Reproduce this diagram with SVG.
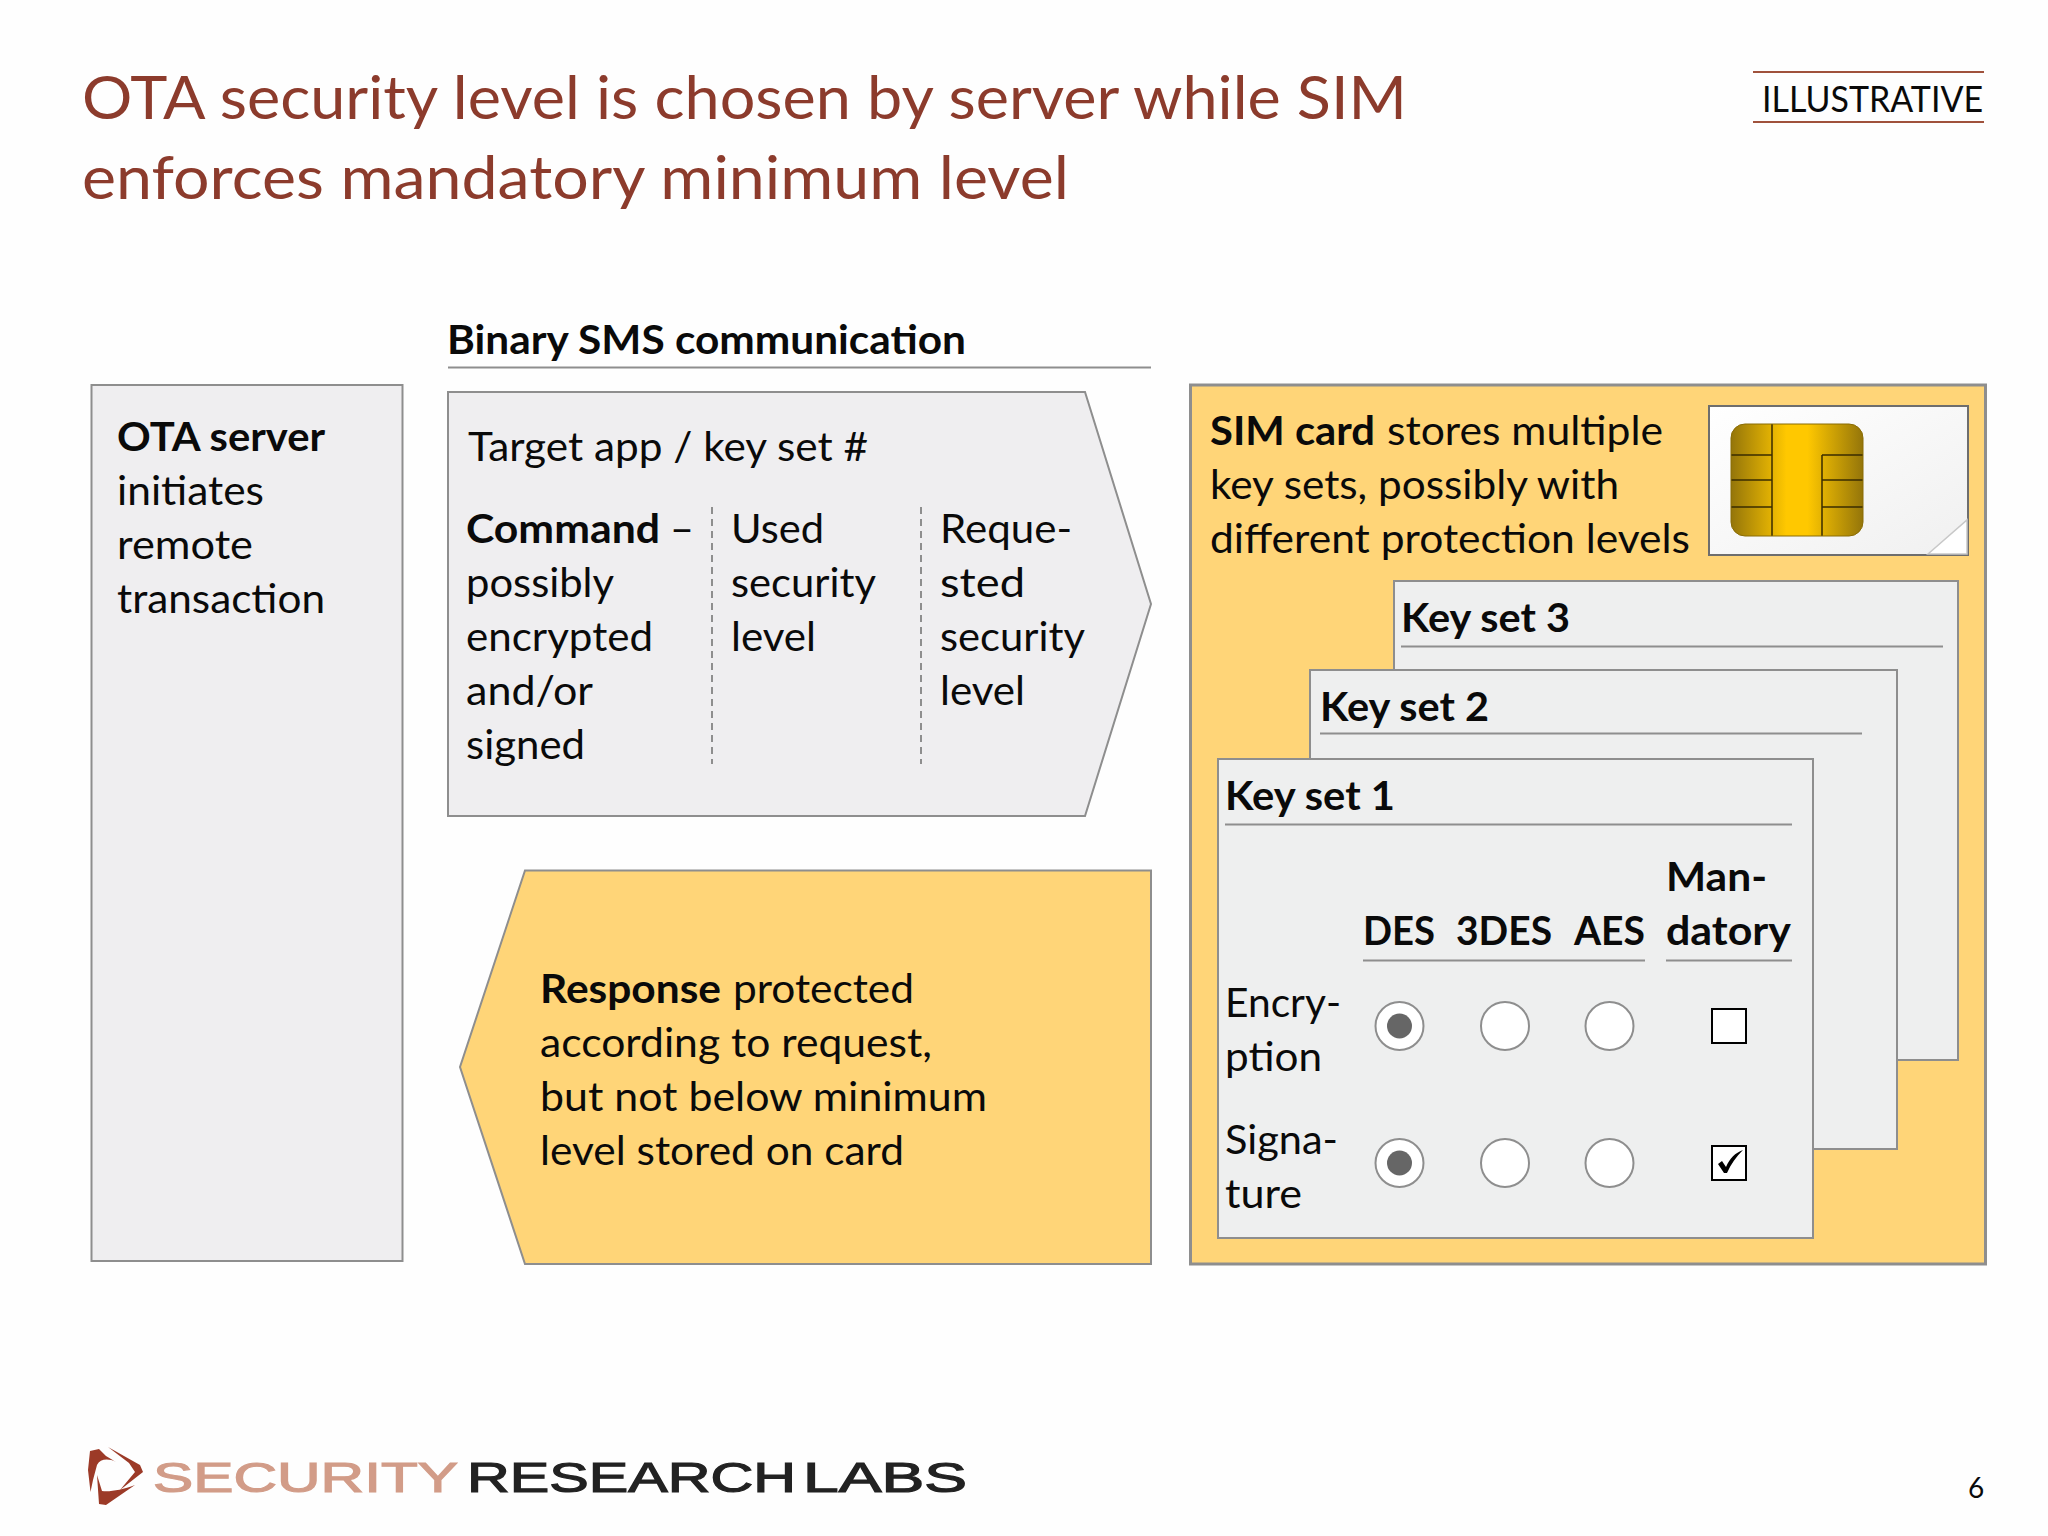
<svg xmlns="http://www.w3.org/2000/svg" width="2048" height="1536" viewBox="0 0 2048 1536">
<defs>
<style>
text{font-family:"Lato","Open Sans","Liberation Sans",sans-serif;fill:#0a0a0a;font-size:40px}
.b{font-weight:700}
.ti{font-size:60px;fill:#8c3b2c}
.p{fill:#efeef0;stroke:#8e8e8e;stroke-width:2}
.k{fill:#eeefef;stroke:#8e8e8e;stroke-width:2}
.g{fill:#ffd578;stroke:#8e8e8e;stroke-width:2}
.r{fill:none;stroke:#8e8e8e;stroke-width:2}
.c{fill:#fff;stroke:#8e8e8e;stroke-width:2}
.d{fill:#666}
.x{fill:#fff;stroke:#000;stroke-width:2}
.chip{stroke:#3a2c00;stroke-width:1.5;fill:none}
.logo{font-family:"Liberation Sans",sans-serif;font-size:43px;stroke-width:1.2}
</style>
<linearGradient id="chip" x1="0" x2="1" y1="0" y2="0">
<stop offset="0" stop-color="#94750a"/><stop offset="0.42" stop-color="#ffc800"/><stop offset="0.58" stop-color="#ffc800"/><stop offset="1" stop-color="#94750a"/>
</linearGradient>
<linearGradient id="card" x1="0" x2="1" y1="0" y2="1">
<stop offset="0" stop-color="#ffffff"/><stop offset="1" stop-color="#f0f0f0"/>
</linearGradient>
</defs>
<rect width="2048" height="1536" fill="#fefefe"/>

<g id="title">
<text class="ti" x="82" y="119" textLength="1325" lengthAdjust="spacingAndGlyphs">OTA security level is chosen by server while SIM</text>
<text class="ti" x="82" y="199" textLength="987" lengthAdjust="spacingAndGlyphs">enforces mandatory minimum level</text>
</g>

<g id="illustrative">
<path d="M1753 72H1984M1753 122H1984" stroke="#a0523c" stroke-width="2" fill="none"/>
<text x="1762" y="112" style="font-size:36px" textLength="221" lengthAdjust="spacingAndGlyphs">ILLUSTRATIVE</text>
</g>

<g id="ota-server">
<rect class="p" x="91.5" y="385" width="311" height="876"/>
<text class="b" x="117" y="451" textLength="208" lengthAdjust="spacingAndGlyphs">OTA server</text>
<text x="117" y="505" textLength="147" lengthAdjust="spacingAndGlyphs">initiates</text>
<text x="117" y="559" textLength="136" lengthAdjust="spacingAndGlyphs">remote</text>
<text x="117" y="613" textLength="208" lengthAdjust="spacingAndGlyphs">transaction</text>
</g>

<g id="binary-sms-header">
<text class="b" x="447" y="354" textLength="519" lengthAdjust="spacingAndGlyphs">Binary SMS communication</text>
<path class="r" d="M448 367.500H1151"/>
</g>

<g id="request-arrow">
<path class="p" d="M448 392H1085L1151 604L1085 816H448Z"/>
<text x="468" y="461" textLength="400" lengthAdjust="spacingAndGlyphs">Target app / key set #</text>
<text class="b" x="466" y="543" textLength="194" lengthAdjust="spacingAndGlyphs">Command</text>
<text x="670" y="543" textLength="24" lengthAdjust="spacingAndGlyphs">–</text>
<text x="466" y="597" textLength="148" lengthAdjust="spacingAndGlyphs">possibly</text>
<text x="466" y="651" textLength="187" lengthAdjust="spacingAndGlyphs">encrypted</text>
<text x="466" y="705" textLength="127" lengthAdjust="spacingAndGlyphs">and/or</text>
<text x="466" y="759" textLength="119" lengthAdjust="spacingAndGlyphs">signed</text>
<path class="r" stroke-dasharray="7 5" d="M712 507V764M921 507V764"/>
<text x="731" y="543" textLength="93" lengthAdjust="spacingAndGlyphs">Used</text>
<text x="731" y="597" textLength="145" lengthAdjust="spacingAndGlyphs">security</text>
<text x="731" y="651" textLength="85" lengthAdjust="spacingAndGlyphs">level</text>
<text x="940" y="543" textLength="132" lengthAdjust="spacingAndGlyphs">Reque-</text>
<text x="940" y="597" textLength="85" lengthAdjust="spacingAndGlyphs">sted</text>
<text x="940" y="651" textLength="145" lengthAdjust="spacingAndGlyphs">security</text>
<text x="940" y="705" textLength="85" lengthAdjust="spacingAndGlyphs">level</text>
</g>

<g id="response-arrow">
<path class="g" d="M525 870.500H1151V1264H525L460 1067Z"/>
<text class="b" x="540" y="1003" textLength="181" lengthAdjust="spacingAndGlyphs">Response</text>
<text x="733" y="1003" textLength="181" lengthAdjust="spacingAndGlyphs">protected</text>
<text x="540" y="1057" textLength="392" lengthAdjust="spacingAndGlyphs">according to request,</text>
<text x="540" y="1111" textLength="447" lengthAdjust="spacingAndGlyphs">but not below minimum</text>
<text x="540" y="1165" textLength="364" lengthAdjust="spacingAndGlyphs">level stored on card</text>
</g>

<g id="sim-card">
<rect class="g" x="1190.500" y="385" width="795" height="879" style="stroke-width:3"/>
<text class="b" x="1210" y="445" textLength="165" lengthAdjust="spacingAndGlyphs">SIM card</text>
<text x="1387" y="445" textLength="276" lengthAdjust="spacingAndGlyphs">stores multiple</text>
<text x="1210" y="499" textLength="409" lengthAdjust="spacingAndGlyphs">key sets, possibly with</text>
<text x="1210" y="553" textLength="480" lengthAdjust="spacingAndGlyphs">different protection levels</text>
</g>

<g id="sim-image">
<rect x="1709" y="406" width="259" height="149" fill="url(#card)" stroke="#6e6e6e" stroke-width="2"/>
<path d="M1928 554L1967 520V554Z" fill="#fff" stroke="#c8c8c8" stroke-width="1.500"/>
<rect x="1731" y="424" width="132" height="112" rx="14" fill="url(#chip)"/>
<path class="chip" d="M1772 424V536M1822 455V536M1731 455H1772M1731 480H1772M1731 507H1772M1822 455H1863M1822 480H1863M1822 507H1863"/>
<rect x="1731" y="424" width="132" height="112" rx="14" fill="none" stroke="#8a6c05" stroke-width="1"/>
</g>

<g id="key-set-3">
<rect class="k" x="1394" y="581" width="564" height="479"/>
<text class="b" x="1401" y="632" textLength="169" lengthAdjust="spacingAndGlyphs">Key set 3</text>
<path class="r" d="M1401 646.500H1943"/>
</g>

<g id="key-set-2">
<rect class="k" x="1310" y="670" width="587" height="479"/>
<text class="b" x="1320" y="721" textLength="169" lengthAdjust="spacingAndGlyphs">Key set 2</text>
<path class="r" d="M1320 733.500H1862"/>
</g>

<g id="key-set-1">
<rect class="k" x="1218" y="759" width="595" height="479"/>
<text class="b" x="1225" y="810" textLength="170" lengthAdjust="spacingAndGlyphs">Key set 1</text>
<path class="r" d="M1225 824.500H1792"/>
<text class="b" x="1666" y="891" textLength="101" lengthAdjust="spacingAndGlyphs">Man-</text>
<text class="b" x="1666" y="945" textLength="125" lengthAdjust="spacingAndGlyphs">datory</text>
<text class="b" x="1363" y="945" textLength="72" lengthAdjust="spacingAndGlyphs">DES</text>
<text class="b" x="1456" y="945" textLength="96" lengthAdjust="spacingAndGlyphs">3DES</text>
<text class="b" x="1574" y="945" textLength="71" lengthAdjust="spacingAndGlyphs">AES</text>
<path class="r" d="M1363 960.500H1645M1666 960.500H1792"/>
<text x="1225" y="1017" textLength="116" lengthAdjust="spacingAndGlyphs">Encry-</text>
<text x="1225" y="1071" textLength="97" lengthAdjust="spacingAndGlyphs">ption</text>
<text x="1225" y="1154" textLength="113" lengthAdjust="spacingAndGlyphs">Signa-</text>
<text x="1225" y="1208" textLength="77" lengthAdjust="spacingAndGlyphs">ture</text>
<circle class="c" cx="1399.500" cy="1026" r="24"/><circle class="d" cx="1399.500" cy="1026" r="12.500"/>
<circle class="c" cx="1505" cy="1026" r="24"/>
<circle class="c" cx="1609.500" cy="1026" r="24"/>
<rect class="x" x="1712" y="1009" width="34" height="34"/>
<circle class="c" cx="1399.500" cy="1163" r="24"/><circle class="d" cx="1399.500" cy="1163" r="12.500"/>
<circle class="c" cx="1505" cy="1163" r="24"/>
<circle class="c" cx="1609.500" cy="1163" r="24"/>
<rect class="x" x="1712" y="1146" width="34" height="34"/>
<path d="M1718 1164L1722 1161L1726 1167C1730 1158 1735 1153 1743 1150C1736 1157 1731 1164 1727 1173H1724Z" fill="#000"/>
</g>

<g id="logo">
<path fill="#9c3a27" d="M90 1451L99 1449L106 1456L116 1462C108 1458 100 1459 97 1465L93 1480L90.500 1492L88 1470Z"/>
<path fill="#9c3a27" d="M108 1447L140 1465L143 1472L120 1490L135 1472L129 1463Z"/>
<path fill="#9c3a27" d="M97 1475L102 1491C110 1492 122 1490 135 1485L106 1505L99 1504Z"/>
<text class="logo" x="153" y="1492" textLength="305" lengthAdjust="spacingAndGlyphs" style="fill:#d29c88;stroke:#d29c88">SECURITY</text>
<text class="logo" x="467" y="1492" textLength="329" lengthAdjust="spacingAndGlyphs" style="fill:#222;stroke:#222">RESEARCH</text>
<text class="logo" x="803" y="1492" textLength="164" lengthAdjust="spacingAndGlyphs" style="fill:#222;stroke:#222">LABS</text>
</g>

<g id="page-number">
<text x="1968" y="1498" style="font-size:28px">6</text>
</g>
</svg>
